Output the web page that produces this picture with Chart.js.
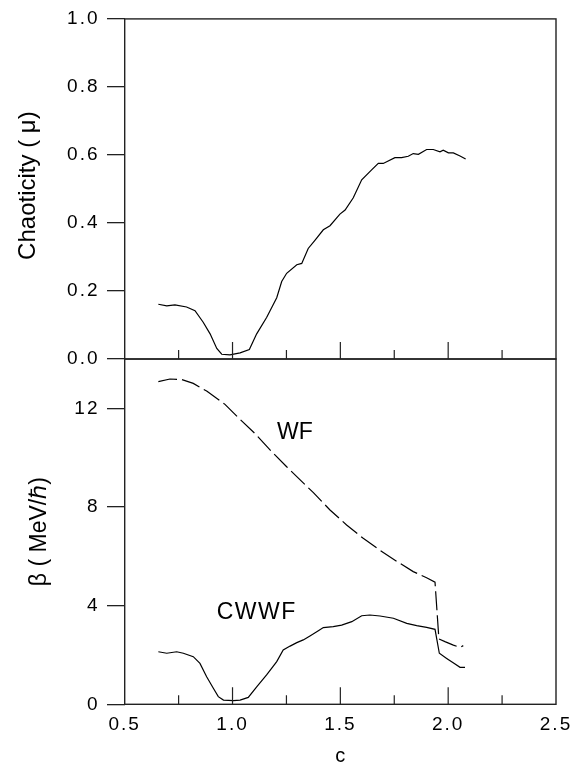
<!DOCTYPE html>
<html><head><meta charset="utf-8">
<script src="https://cdn.jsdelivr.net/npm/chart.js@4"></script>
<style>
html,body{margin:0;padding:0;background:#fff;}
#wrap{position:relative;width:585px;height:764px;background:#fff;}
#wrap canvas{position:absolute;left:0;top:0;}
</style></head><body>
<div id="wrap"><canvas id="cTop" width="585" height="764"></canvas><canvas id="cBot" width="585" height="764"></canvas></div>
<script>
// ---- data ----
const cChaos  = [0.656,0.695,0.733,0.787,0.826,0.864,0.896,0.927,0.950,0.988,1.035,1.078,1.112,1.158,1.205,1.228,1.251,1.298,1.321,1.351,1.382,1.421,1.452,1.498,1.522,1.560,1.599,1.645,1.676,1.699,1.753,1.784,1.815,1.838,1.862,1.900,1.931,1.962,1.977,2.001,2.024,2.055,2.081];
const muChaos = [0.161,0.156,0.159,0.153,0.142,0.108,0.074,0.031,0.014,0.012,0.018,0.028,0.074,0.122,0.180,0.228,0.252,0.277,0.281,0.325,0.349,0.380,0.392,0.426,0.438,0.474,0.527,0.556,0.575,0.575,0.592,0.592,0.596,0.604,0.602,0.616,0.616,0.609,0.614,0.606,0.606,0.597,0.588];

const cWF    = [0.656,0.710,0.764,0.818,0.880,0.965,1.035,1.104,1.182,1.251,1.298,1.375,1.452,1.529,1.606,1.686,1.761,1.838,1.900,1.939,1.957,1.985,2.024,2.055,2.070];
const betaWF = [13.08,13.19,13.17,13.01,12.70,12.16,11.55,10.98,10.24,9.63,9.23,8.58,7.88,7.27,6.73,6.23,5.80,5.38,5.13,4.95,2.65,2.54,2.40,2.31,2.38];

const cCWWF    = [0.656,0.695,0.741,0.772,0.818,0.849,0.880,0.911,0.934,0.958,1.004,1.035,1.073,1.112,1.158,1.205,1.235,1.267,1.298,1.328,1.359,1.398,1.421,1.467,1.506,1.553,1.599,1.637,1.684,1.746,1.808,1.854,1.900,1.939,1.959,1.993,2.032,2.055,2.078];
const betaCWWF = [2.13,2.07,2.13,2.07,1.93,1.66,1.12,0.65,0.31,0.17,0.15,0.17,0.28,0.71,1.19,1.73,2.20,2.36,2.50,2.61,2.77,2.98,3.11,3.15,3.21,3.35,3.59,3.62,3.58,3.49,3.28,3.19,3.12,3.04,2.07,1.86,1.63,1.50,1.50];

const xTickLabels  = [0.5,1.0,1.5,2.0,2.5];
const xMajorTicks  = [1.0,1.5,2.0];
const xMinorTicks  = [0.75,1.25,1.75,2.25];
const yTicksTop    = [0,0.2,0.4,0.6,0.8,1.0];
const yTicksBottom = [0,4,8,12];

const curveLabels = ['WF','CWWF'];
const curveLabelC = [1.289,1.112];
const curveLabelBeta = [11.0,3.71];

// ---- styling ----
const FAM = "'Liberation Sans', Arial, Helvetica, sans-serif";
const tickFont = {family:FAM, size:19};

const framePlugin = {
  id:'frame',
  afterDatasetsDraw(chart){
    // tick labels (drawn in a later layer) get a little extra letter spacing
    chart.ctx.letterSpacing = '2px';
  },
  afterDraw(chart, args, opts){
    const ctx = chart.ctx, a = chart.chartArea, x = chart.scales.x;
    ctx.letterSpacing = '0px';
    ctx.save();
    ctx.strokeStyle = '#222';
    ctx.lineWidth = 1.4;
    ctx.strokeRect(a.left, a.top, a.right - a.left, a.bottom - a.top);
    ctx.lineWidth = 1.2;
    ctx.beginPath();
    xMajorTicks.forEach(v => { const p = x.getPixelForValue(v); ctx.moveTo(p, a.bottom); ctx.lineTo(p, a.bottom - 17); });
    xMinorTicks.forEach(v => { const p = x.getPixelForValue(v); ctx.moveTo(p, a.bottom); ctx.lineTo(p, a.bottom - 9); });
    ctx.stroke();
    if (opts && opts.showLabels) {
      const y = chart.scales.y;
      ctx.fillStyle = '#000';
      ctx.font = '23px ' + FAM;
      ctx.textAlign = 'center';
      ctx.textBaseline = 'middle';
      curveLabels.forEach((t, i) => {
        ctx.letterSpacing = t.length > 2 ? '1.5px' : '0px';
        ctx.fillText(t, x.getPixelForValue(curveLabelC[i]), y.getPixelForValue(curveLabelBeta[i]));
      });
    }
    ctx.restore();
  }
};

function yGrid(){ return {drawOnChartArea:false, drawTicks:true, tickLength:17.7, color:'#222', lineWidth:1.3}; }

new Chart(document.getElementById('cTop'), {
  type:'line',
  data:{datasets:[{
    data: cChaos.map((c,i)=>({x:c, y:muChaos[i]})),
    borderColor:'#000', borderWidth:1.2, pointRadius:0, fill:false, tension:0
  }]},
  options:{
    responsive:false, animation:false, devicePixelRatio:1,
    layout:{padding:{top:13, right:29, bottom:405, left:0}},
    plugins:{legend:{display:false}, tooltip:{enabled:false}, frame:{showLabels:false}},
    scales:{
      x:{type:'linear', display:false, min:0.5, max:2.5},
      y:{type:'linear', min:0, max:1,
         afterFit:s=>{ s.width = 124.7; },
         afterBuildTicks:s=>{ s.ticks = yTicksTop.map(v=>({value:v})); },
         ticks:{callback:v=>Number(v).toFixed(1), font:tickFont, color:'#000', padding:7.5, z:1},
         grid:yGrid(), border:{display:false},
         title:{display:true, text:' Chaoticity ( μ)', font:{family:FAM, size:24}, color:'#000', padding:{top:14.3, bottom:0}}
      }
    }
  },
  plugins:[framePlugin]
});

new Chart(document.getElementById('cBot'), {
  type:'line',
  data:{datasets:[
    {data: cWF.map((c,i)=>({x:c, y:betaWF[i]})), borderColor:'#000', borderWidth:1.2, borderDash:[19,5], pointRadius:0, fill:false, tension:0},
    {data: cCWWF.map((c,i)=>({x:c, y:betaCWWF[i]})), borderColor:'#000', borderWidth:1.2, pointRadius:0, fill:false, tension:0}
  ]},
  options:{
    responsive:false, animation:false, devicePixelRatio:1,
    layout:{padding:{top:359, right:29, bottom:0, left:0}},
    plugins:{legend:{display:false}, tooltip:{enabled:false}, frame:{showLabels:true}},
    scales:{
      x:{type:'linear', min:0.5, max:2.5,
         afterFit:s=>{ s.height = 59.7; },
         afterBuildTicks:s=>{ s.ticks = xTickLabels.map(v=>({value:v})); },
         ticks:{callback:v=>Number(v).toFixed(1), font:tickFont, color:'#000', padding:9, maxRotation:0, z:1},
         grid:{display:false, drawTicks:false}, border:{display:false},
         title:{display:true, text:'c', font:{family:FAM, size:20, lineHeight:1}, color:'#000', padding:{top:0, bottom:-2}}
      },
      y:{type:'linear', min:0, max:14,
         afterFit:s=>{ s.width = 124.7; },
         afterBuildTicks:s=>{ s.ticks = yTicksBottom.map(v=>({value:v})); },
         ticks:{callback:v=>String(v), font:tickFont, color:'#000', padding:7.5, z:1},
         grid:yGrid(), border:{display:false},
         title:{display:true, text:'β ( MeV/ℏ)', font:{family:FAM, size:23}, color:'#000', padding:{top:26, bottom:0}}
      }
    }
  },
  plugins:[framePlugin]
});
</script>
</body></html>
